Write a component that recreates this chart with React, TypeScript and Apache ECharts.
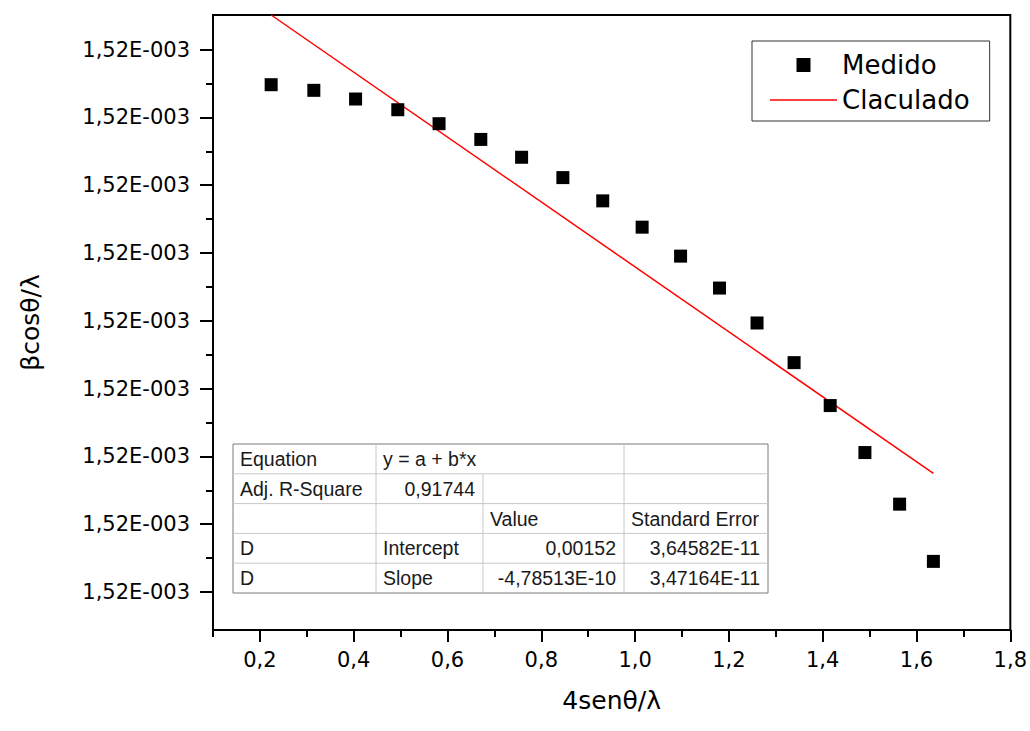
import React, { useEffect, useRef } from "react";
import * as echarts from "echarts";

// 4senθ/λ values of the measured points
const xValues = [
  0.224, 0.315, 0.404, 0.494, 0.582, 0.671, 0.758, 0.846, 0.931, 1.015, 1.097,
  1.18, 1.26, 1.339, 1.416, 1.49, 1.564, 1.636,
];
// βcosθ/λ values of the measured points
const yValues = [
  0.0015197482, 0.0015197399, 0.0015197271, 0.0015197113, 0.0015196907,
  0.0015196675, 0.0015196412, 0.0015196112, 0.0015195769, 0.0015195381,
  0.0015194954, 0.0015194483, 0.0015193968, 0.0015193383, 0.001519275,
  0.0015192057, 0.0015191296, 0.0015190452,
];
// calculated (linear fit) line end points
const fitX = [0.224, 1.636];
const fitY = [0.001519851, 0.001519175];

const xMin = 0.1;
const xMax = 1.8;
const yMin = 0.001518944;
const yMax = 0.001519851;

const xMajorTicks = [0.2, 0.4, 0.6, 0.8, 1.0, 1.2, 1.4, 1.6, 1.8];
const xMinorTicks = [0.1, 0.3, 0.5, 0.7, 0.9, 1.1, 1.3, 1.5, 1.7];
const yMajorTicks = [
  0.001519, 0.0015191, 0.0015192, 0.0015193, 0.0015194, 0.0015195, 0.0015196,
  0.0015197, 0.0015198,
];
const yMinorTicks = [
  0.00151905, 0.00151915, 0.00151925, 0.00151935, 0.00151945, 0.00151955,
  0.00151965, 0.00151975,
];

const seriesNames = ["Medido", "Claculado"];
const xAxisTitle = "4senθ/λ";
const yAxisTitle = "βcosθ/λ";

const tableRows = [
  ["Equation", "y = a + b*x", "", ""],
  ["Adj. R-Square", "0,91744", "", ""],
  ["", "", "Value", "Standard Error"],
  ["D", "Intercept", "0,00152", "3,64582E-11"],
  ["D", "Slope", "-4,78513E-10", "3,47164E-11"],
];

const sci = (v: number) => {
  const [m, e] = v.toExponential(2).split("e");
  const ei = parseInt(e, 10);
  return (
    m.replace(".", ",") +
    "E" +
    (ei < 0 ? "-" : "+") +
    String(Math.abs(ei)).padStart(3, "0")
  );
};

function buildTable() {
  const left = 233;
  const right = 768;
  const top = 444;
  const rowH = 29.8;
  const cols = [233, 376, 483, 624, 768];
  const bottom = top + rowH * tableRows.length;
  const els: any[] = [];
  els.push({
    type: "rect",
    shape: { x: left, y: top, width: right - left, height: bottom - top },
    style: { fill: "#fff", stroke: "#7a7a7a", lineWidth: 1 },
    z: 10,
  });
  for (let k = 1; k < tableRows.length; k++) {
    els.push({
      type: "line",
      shape: { x1: left, y1: top + k * rowH, x2: right, y2: top + k * rowH },
      style: { stroke: "#c8c8c8", lineWidth: 1 },
      z: 11,
    });
  }
  [cols[1], cols[3]].forEach((cx) =>
    els.push({
      type: "line",
      shape: { x1: cx, y1: top, x2: cx, y2: bottom },
      style: { stroke: "#c8c8c8", lineWidth: 1 },
      z: 11,
    })
  );
  els.push({
    type: "line",
    shape: { x1: cols[2], y1: top + rowH, x2: cols[2], y2: bottom },
    style: { stroke: "#c8c8c8", lineWidth: 1 },
    z: 11,
  });
  const font = { fontSize: 19.5, fontFamily: "Liberation Sans, Arial, sans-serif", fill: "#1a1a1a" };
  tableRows.forEach((row, r) => {
    const cy = top + rowH * r + rowH / 2;
    row.forEach((txt, c) => {
      if (!txt) return;
      let x: number;
      let align: string;
      if (r === 1 && c === 1) {
        x = cols[2] - 8;
        align = "right";
      } else if (r >= 3 && c >= 2) {
        x = cols[c + 1] - 8;
        align = "right";
      } else {
        x = cols[c] + 7;
        align = "left";
      }
      els.push({
        type: "text",
        x,
        y: cy,
        z: 12,
        style: { text: txt, ...font, align, verticalAlign: "middle" },
      });
    });
  });
  return els;
}

export default function App() {
  const ref = useRef<HTMLDivElement>(null);
  useEffect(() => {
    if (!ref.current) return;
    const chart = echarts.init(ref.current, undefined, { renderer: "svg" });
    const axisFont = { fontSize: 21, fontFamily: "DejaVu Sans", color: "#000" };
    const titleFont = { fontSize: 25, fontFamily: "DejaVu Sans", color: "#000" };
    chart.setOption({
      animation: false,
      backgroundColor: "#fff",
      grid: {
        left: 213,
        right: 18,
        top: 15,
        bottom: 101,
        show: true,
        borderColor: "#000",
        borderWidth: 2,
        backgroundColor: "#fff",
      },
      legend: {
        orient: "vertical",
        left: 752,
        top: 41,
        padding: [11, 20, 8, 18],
        itemGap: 9,
        itemWidth: 67,
        itemHeight: 14,
        borderColor: "#333",
        borderWidth: 1,
        backgroundColor: "#fff",
        textStyle: { fontSize: 26, fontFamily: "DejaVu Sans", color: "#000" },
        data: [
          { name: seriesNames[0], icon: "path://M0,0h10v10h-10z" },
          { name: seriesNames[1], icon: "path://M0,0h67v1.5h-67z" },
        ],
      },
      xAxis: [
        {
          type: "value",
          min: xMin,
          max: xMax,
          position: "bottom",
          axisLine: { show: true, lineStyle: { color: "#000", width: 2 } },
          axisTick: {
            show: true,
            customValues: xMajorTicks,
            length: 12,
            lineStyle: { color: "#000", width: 2 },
          },
          axisLabel: {
            customValues: xMajorTicks,
            formatter: (v: number) => v.toFixed(1).replace(".", ","),
            margin: 19,
            ...axisFont,
          },
          splitLine: { show: false },
          name: xAxisTitle,
          nameLocation: "middle",
          nameGap: 58,
          nameTextStyle: titleFont,
        },
        {
          type: "value",
          min: xMin,
          max: xMax,
          position: "bottom",
          axisLine: { show: false },
          axisTick: {
            show: true,
            customValues: xMinorTicks,
            length: 7,
            lineStyle: { color: "#000", width: 2 },
          },
          axisLabel: { show: false },
          splitLine: { show: false },
        },
      ],
      yAxis: [
        {
          type: "value",
          min: yMin,
          max: yMax,
          position: "left",
          axisLine: { show: true, lineStyle: { color: "#000", width: 2 } },
          axisTick: {
            show: true,
            customValues: yMajorTicks,
            length: 13,
            lineStyle: { color: "#000", width: 2 },
          },
          axisLabel: {
            customValues: yMajorTicks,
            formatter: (v: number) => sci(v),
            margin: 23,
            ...axisFont,
          },
          splitLine: { show: false },
          name: yAxisTitle,
          nameLocation: "middle",
          nameGap: 170,
          nameTextStyle: titleFont,
        },
        {
          type: "value",
          min: yMin,
          max: yMax,
          position: "left",
          axisLine: { show: false },
          axisTick: {
            show: true,
            customValues: yMinorTicks,
            length: 7,
            lineStyle: { color: "#000", width: 2 },
          },
          axisLabel: { show: false },
          splitLine: { show: false },
        },
      ],
      series: [
        {
          name: seriesNames[0],
          type: "scatter",
          xAxisIndex: 0,
          yAxisIndex: 0,
          symbol: "rect",
          symbolSize: 13,
          itemStyle: { color: "#000", opacity: 1 },
          data: xValues.map((x, i) => [x, yValues[i]]),
          z: 3,
        },
        {
          name: seriesNames[1],
          type: "line",
          xAxisIndex: 0,
          yAxisIndex: 0,
          symbol: "none",
          lineStyle: { color: "#ff0000", width: 1.5 },
          itemStyle: { color: "#ff0000" },
          data: fitX.map((x, i) => [x, fitY[i]]),
          z: 2,
        },
      ],
      graphic: buildTable(),
    });
    return () => chart.dispose();
  }, []);
  return (
    <div
      ref={ref}
      style={{ position: "absolute", left: 0, top: 0, width: 1030, height: 731 }}
    />
  );
}
